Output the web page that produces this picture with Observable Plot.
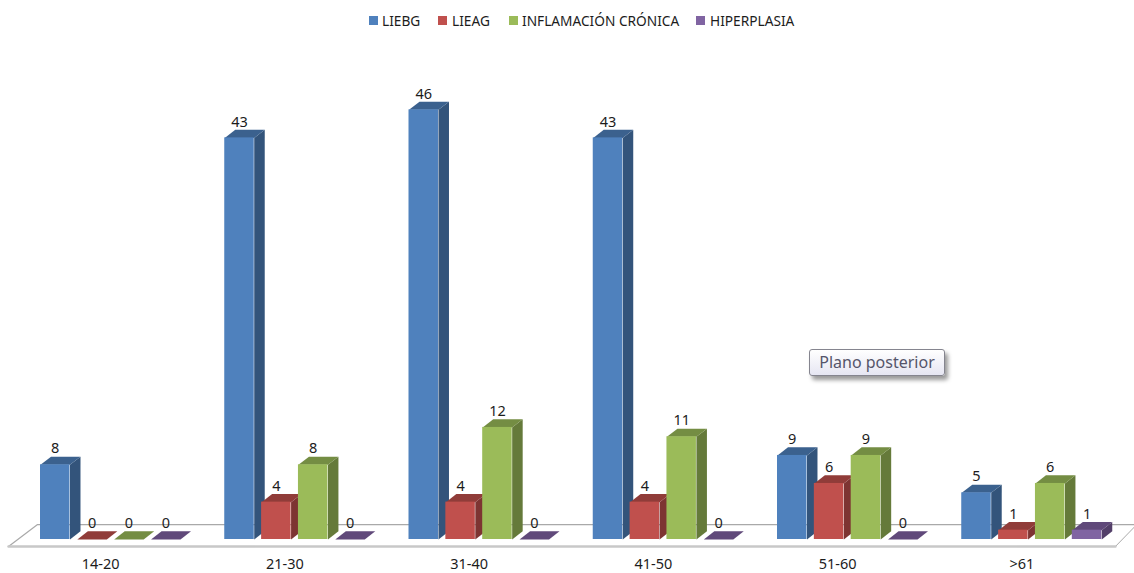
<!DOCTYPE html>
<html lang="es">
<head>
<meta charset="utf-8">
<script src="https://cdn.jsdelivr.net/npm/d3@7"></script>
<script src="https://cdn.jsdelivr.net/npm/@observablehq/plot@0.6"></script>
<style>
  html, body { margin: 0; padding: 0; background: #fff; overflow: hidden; }
  #page { position: relative; width: 1134px; height: 573px; font-family: "Noto Sans", sans-serif; color: #1c1c1c; }
  #legend { position: relative; height: 40px; font-size: 13.7px; }
  #legend .swatch { position: absolute; top: 16px; width: 9px; height: 9px; }
  #legend .name { position: absolute; top: 12px; line-height: 17px; white-space: nowrap; }
  #note {
    position: absolute; left: 809px; top: 349px; width: 134px; height: 25px; line-height: 25px;
    text-align: center; font-size: 16px; color: #55556a; border: 1px solid #85858f; border-radius: 3px;
    background: linear-gradient(#ffffff, #e6e6f2); box-shadow: 3px 4px 4px #9a9a9a;
  }
  svg { display: block; }
</style>
</head>
<body>
<div id="page">
  <div id="legend"></div>
  <div id="chart"></div>
  <div id="note">Plano posterior</div>
</div>
<script>
// Age bands and case counts per diagnosis
const categories = ["14-20", "21-30", "31-40", "41-50", "51-60", ">61"];
const liebg = [8, 43, 46, 43, 9, 5];
const lieag = [0, 4, 4, 4, 6, 1];
const inflamacion = [0, 8, 12, 11, 9, 6];
const hiperplasia = [0, 0, 0, 0, 0, 1];

const seriesNames = ["LIEBG", "LIEAG", "INFLAMACIÓN CRÓNICA", "HIPERPLASIA"];
const seriesValues = [liebg, lieag, inflamacion, hiperplasia];
const frontColors = ["#4f81bd", "#c0504d", "#9bbb59", "#8064a2"];
const topColors = ["#3b618e", "#903c39", "#748d43", "#60497a"];
const sideColors = ["#33547b", "#7d3432", "#657a3a", "#533f69"];

// Legend
const legendSwatchX = [369, 438, 509, 696];
const legendTextX = [382, 452, 522, 710];
const legend = document.getElementById("legend");
seriesNames.forEach((name, i) => {
  const swatch = document.createElement("span");
  swatch.className = "swatch";
  swatch.style.left = legendSwatchX[i] + "px";
  swatch.style.background = frontColors[i];
  const label = document.createElement("span");
  label.className = "name";
  label.style.left = legendTextX[i] + "px";
  label.textContent = name;
  legend.append(swatch, label);
});

// The x axis counts bar slots: four bars and one empty slot per age band
const slotsPerGroup = 5;
const barWidth = 0.8;
const depthX = 0.285;   // oblique depth in slots
const depthY = 0.87;    // oblique depth in counts

const bars = seriesValues.map((values, s) =>
  values.map((value, g) => ({
    id: `${s}-${g}`,
    series: s,
    value,
    x1: g * slotsPerGroup + s,
    x2: g * slotsPerGroup + s + barWidth
  }))
);

// Outline polygons for the oblique side and top faces of a bar
function faces(bar) {
  const {id, x1, x2, value: v, series} = bar;
  const side = [[x2, 0], [x2 + depthX, depthY], [x2 + depthX, v + depthY], [x2, v]];
  const top = [[x1, v], [x1 + depthX, v + depthY], [x2 + depthX, v + depthY], [x2, v]];
  return [
    ...side.map(([x, y]) => ({x, y, z: id + "s", color: sideColors[series]})),
    ...top.map(([x, y]) => ({x, y, z: id + "t", color: topColors[series]}))
  ];
}

// Floor plane under the bars
const floorLeft = -0.868, floorBackLeft = -0.08, floorRight = 29.17, floorBackRight = 29.75;
const floorFront = -0.75, floorBack = 1.6;

const tickPositions = categories.map((_, g) => g * slotsPerGroup + 1.63);
const allBars = bars.flat();

const chart = Plot.plot({
  width: 1134,
  height: 533,
  marginTop: 32,
  marginBottom: 34,
  marginLeft: 0,
  marginRight: 0,
  style: {fontFamily: '"Noto Sans", sans-serif', fontSize: "14.5px", color: "#1c1c1c", background: "#fff"},
  x: {type: "linear", domain: [-1.0855, 29.688]},
  y: {domain: [0, 50], axis: null},
  marks: [
    Plot.line(
      [[floorLeft, floorFront], [floorBackLeft, floorBack], [floorBackRight, floorBack]],
      {x: d => d[0], y: d => d[1], stroke: "#a9a9a9", strokeWidth: 1.2}
    ),
    Plot.line(
      [[floorRight, floorFront], [floorBackRight, floorBack]],
      {x: d => d[0], y: d => d[1], stroke: "#a9a9a9", strokeWidth: 1}
    ),
    Plot.line(
      [[floorLeft, floorFront], [floorRight, floorFront]],
      {x: d => d[0], y: d => d[1], stroke: "#c8c8c8", strokeWidth: 2.5}
    ),
    // Each series is painted over the one before, so a bar hides its left neighbour's side
    ...bars.flatMap(seriesBars => [
      Plot.line(seriesBars.flatMap(faces), {
        x: "x", y: "y", z: "z", fill: "color", stroke: null, curve: "linear"
      }),
      Plot.rect(seriesBars, {
        x1: "x1", x2: "x2", y1: 0, y2: "value",
        fill: d => frontColors[d.series]
      })
    ]),
    Plot.text(allBars, {
      x: d => (d.x1 + d.x2) / 2,
      y: "value",
      text: d => String(d.value),
      dy: -16,
      fontSize: 14.5,
      fill: "#1c1c1c"
    }),
    Plot.axisX(tickPositions, {
      anchor: "bottom",
      tickSize: 0,
      tickPadding: 19,
      fontSize: 14.5,
      fill: "#1c1c1c",
      tickFormat: d => categories[tickPositions.indexOf(d)]
    })
  ]
});
document.getElementById("chart").append(chart);
</script>
</body>
</html>
